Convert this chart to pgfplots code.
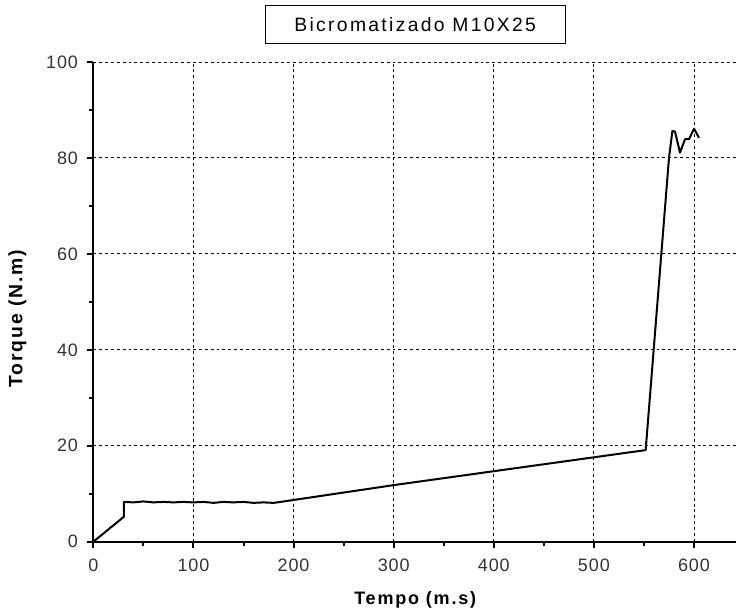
\documentclass[border=0pt]{standalone}
\usepackage{pgfplots}
\pgfplotsset{compat=1.18}
\usepackage{fontspec}
\setmainfont{Liberation Sans}
\newfontfamily\titlefont[LetterSpace=12]{Liberation Sans}
\newfontfamily\labelfont[LetterSpace=10]{Liberation Sans}
\newfontfamily\tickfont[LetterSpace=5]{Liberation Sans}
\begin{document}
\begin{tikzpicture}
\begin{axis}[
    at={(0pt,0pt)}, anchor=origin,
    scale only axis,
    width=482.8pt, height=359.8pt,
    xmin=0, xmax=643, ymin=0, ymax=100,
    axis x line*=bottom, axis y line*=left,
    axis line style={line width=1.5pt},
    xtick={0,100,...,600}, ytick={0,20,...,100},
    minor x tick num=1, minor y tick num=1,
    tick align=outside,
    major tick length=5pt, minor tick length=3pt,
    tick style={line width=1.5pt, black},
    grid=major,
    major grid style={dash pattern=on 2.2pt off 2.2pt, line width=0.7pt, black},
    /pgf/number format/assume math mode=true,
    tick label style={font=\tickfont\fontsize{13.5}{16}\selectfont, text=black!80},
    xticklabel style={yshift=-4pt},
    yticklabel style={xshift=-3pt},
    xlabel={Tempo (m.s)}, ylabel={Torque (N.m)},
    label style={font=\labelfont\bfseries\fontsize{13.5}{16}\selectfont},
    x label style={at={(axis description cs:0.5,0)}, anchor=center, yshift=-43.7pt},
    y label style={at={(axis description cs:0,0.465)}, anchor=center, yshift=57pt,
        font=\labelfont\bfseries\fontsize{14.5}{16}\selectfont},
    title={Bicromatizado M10X25},
    title style={draw, line width=0.75pt, minimum width=225pt, minimum height=28.5pt,
        at={(axis description cs:0.5,1.062)}, anchor=center,
        font=\titlefont\fontsize{14.5}{16}\selectfont},
]
% Torque curve
\addplot[black, line width=1.5pt, line join=round] coordinates {
    (0, 0)
    (30.5, 5.2)
    (30.5, 8.3)
    (40, 8.2)
    (50, 8.4)
    (60, 8.2)
    (70, 8.3)
    (80, 8.2)
    (90, 8.3)
    (100, 8.2)
    (110, 8.3)
    (120, 8.1)
    (130, 8.3)
    (140, 8.2)
    (150, 8.3)
    (160, 8.1)
    (170, 8.2)
    (180, 8.1)
    (187, 8.3)
    (300, 11.8)
    (400, 14.7)
    (500, 17.6)
    (551.7, 19.1)
    (575, 80)
    (578.4, 85.6)
    (581, 85.5)
    (586, 81.1)
    (591, 83.9)
    (595, 83.9)
    (600, 86.1)
    (605, 84.2)
};
\end{axis}
\pgfresetboundingbox
\path[use as bounding box] (-70pt,-54.2pt) rectangle (482pt,406.3pt);
\end{tikzpicture}
\end{document}
